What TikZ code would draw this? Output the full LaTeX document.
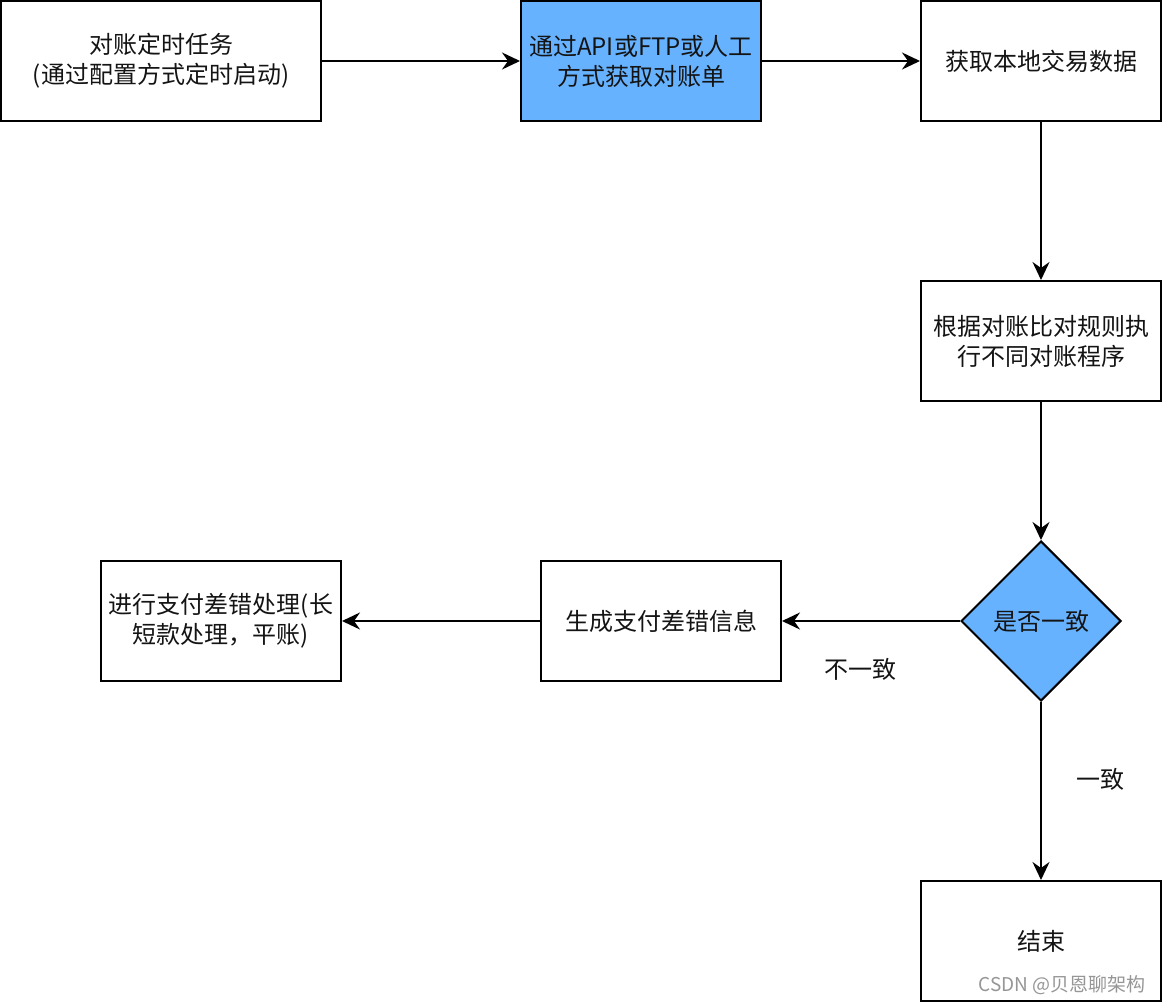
\documentclass[tikz,border=0pt]{standalone}
\usepackage{fontspec}
\setmainfont{Noto Sans CJK SC}
\usetikzlibrary{arrows.meta,shapes.geometric}
\definecolor{flowblue}{RGB}{102,178,255}
\definecolor{wmgray}{RGB}{150,150,150}
\definecolor{txt}{RGB}{20,20,20}
\tikzset{
  box/.style={draw=black, line width=2pt, fill=white, minimum width=240pt, minimum height=120pt, inner sep=0pt, align=center, text=txt, font=\fontsize{24}{30}\selectfont},
  bluebox/.style={box, fill=flowblue},
  decision/.style={draw=black, line width=2pt, fill=flowblue, diamond, minimum width=160pt, minimum height=160pt, aspect=1, inner sep=0pt, text=txt, font=\fontsize{24}{30}\selectfont},
  conn/.style={line width=2pt, -{Stealth[length=18pt,width=17pt,inset=6pt]}},
  lbl/.style={text=txt, font=\fontsize{24}{30}\selectfont, inner sep=0pt},
}
\begin{document}
\begin{tikzpicture}[x=1pt,y=-1pt]
\useasboundingbox (0,0) rectangle (1162,1004);
\node[box, minimum width=320pt] (b1) at (161,61) {对账定时任务\\(通过配置方式定时启动)};
\node[bluebox] (b2) at (641,61) {通过API或FTP或人工\\方式获取对账单};
\node[box] (b3) at (1041,61) {获取本地交易数据};
\node[box] (b4) at (1041,341) {根据对账比对规则执\\行不同对账程序};
\node[decision] (d) at (1041,621) {是否一致};
\node[box] (b5) at (661,621) {生成支付差错信息};
\node[box] (b6) at (221,621) {进行支付差错处理(长\\短款处理，平账)};
\node[box] (b7) at (1041,941) {结束};
\node[lbl] (l1) at (860,669) {不一致};
\node[lbl] (l2) at (1100,779) {一致};
\node[text=wmgray, font=\fontsize{19}{22}\selectfont, inner sep=0pt] (wm) at (1062,985) {CSDN @贝恩聊架构};
\draw[conn] (b1.east) -- (b2.west);
\draw[conn] (b2.east) -- (b3.west);
\draw[conn] (b3.south) -- (b4.north);
\draw[conn] (b4.south) -- (d.north);
\draw[conn] (d.west) -- (b5.east);
\draw[conn] (b5.west) -- (b6.east);
\draw[conn] (d.south) -- (b7.north);
\end{tikzpicture}
\end{document}
